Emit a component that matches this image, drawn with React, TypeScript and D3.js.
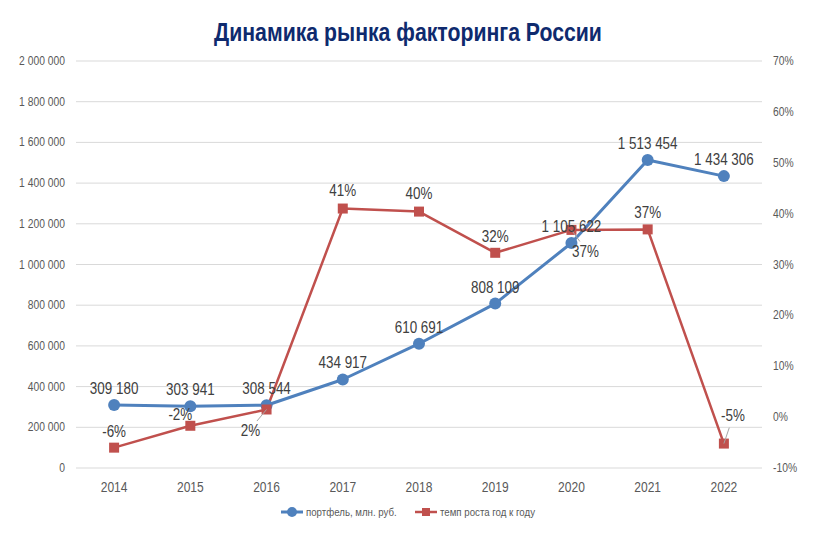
import React from 'react';
import * as d3 from 'd3';

const years = ['2014', '2015', '2016', '2017', '2018', '2019', '2020', '2021', '2022'];
const portfolio = [309180, 303941, 308544, 434917, 610691, 808109, 1105622, 1513454, 1434306];
const growth = [-6.0, -1.7, 1.5, 41.0, 40.4, 32.3, 36.8, 36.9, -5.2];
const growthLabels = ['-6%', '-2%', '2%', '41%', '40%', '32%', '37%', '37%', '-5%'];
const leftTicks = [0, 200000, 400000, 600000, 800000, 1000000, 1200000, 1400000, 1600000, 1800000, 2000000];
const rightTicks = [-10, 0, 10, 20, 30, 40, 50, 60, 70];

// label offsets for the red series (dx, dy relative to the marker) and whether a leader line is drawn
const redLabelPos: [number, number, boolean][] = [
  [0, -17, false],
  [-10, -12, false],
  [-16, 21, true],
  [0, -19, false],
  [0, -19, false],
  [0, -17, false],
  [14, 21, true],
  [0, -17, false],
  [9, -29, true],
];

const W = 835;
const H = 536;
const left = 76;
const right = 762;
const top = 61;
const bottom = 468;

const FONT = '"Liberation Sans", Arial, sans-serif';

const fmt = (v: number) => d3.format(',')(v).replace(/,/g, ' ');

// no narrow font installed, so squeeze text horizontally
function T({ x, y, sx = 0.86, children, ...rest }: any) {
  return (
    <text transform={`translate(${x},${y}) scale(${sx},1)`} {...rest}>
      {children}
    </text>
  );
}

export default function App() {
  const x = d3.scaleBand().domain(years).range([left, right]);
  const yL = d3.scaleLinear().domain([0, 2000000]).range([bottom, top]);
  const yR = d3.scaleLinear().domain([-10, 70]).range([bottom, top]);
  const cx = (y: string) => (x(y) as number) + x.bandwidth() / 2;

  const blueLine = d3.line<number>().x((_, i) => cx(years[i])).y(d => yL(d))(portfolio) as string;
  const redLine = d3.line<number>().x((_, i) => cx(years[i])).y(d => yR(d))(growth) as string;

  return (
    <svg width={W} height={H} style={{ position: 'absolute', left: 0, top: 0, background: '#fff' }} fontFamily={FONT}>
      <T x={408} y={41} sx={0.85} textAnchor="middle" fontSize={25} fontWeight="bold" fill="#0E2A6E">
        Динамика рынка факторинга России
      </T>

      {leftTicks.map(t => (
        <g key={t}>
          <line x1={left} x2={right} y1={yL(t)} y2={yL(t)} stroke="#D9D9D9" strokeWidth={1} />
          <T x={65} y={yL(t) + 4} sx={0.86} textAnchor="end" fontSize={12} fill="#595959">{fmt(t)}</T>
        </g>
      ))}
      {rightTicks.map(t => (
        <T key={t} x={773} y={yR(t) + 4} sx={0.86} fontSize={12} fill="#595959">{t}%</T>
      ))}
      {years.map(y => (
        <T key={y} x={cx(y)} y={492} sx={0.86} textAnchor="middle" fontSize={14} fill="#595959">{y}</T>
      ))}

      <path d={blueLine} fill="none" stroke="#4F81BD" strokeWidth={3} strokeLinejoin="round" />
      <path d={redLine} fill="none" stroke="#C0504D" strokeWidth={2.5} strokeLinejoin="round" />

      {portfolio.map((v, i) => (
        <circle key={i} cx={cx(years[i])} cy={yL(v)} r={6} fill="#4F81BD" />
      ))}
      {growth.map((v, i) => (
        <rect key={i} x={cx(years[i]) - 5} y={yR(v) - 5} width={10} height={10} fill="#C0504D" />
      ))}

      {growth.map((v, i) => {
        const [dx, dy, lead] = redLabelPos[i];
        const px = cx(years[i]);
        const py = yR(v);
        return (
          <g key={i}>
            {lead && (
              <line x1={px} y1={py} x2={px + dx * 0.6} y2={py + dy * 0.55} stroke="#A6A6A6" strokeWidth={1} />
            )}
            <T x={px + dx} y={py + dy + 6} sx={0.84} textAnchor="middle" fontSize={16} fill="#404040">
              {growthLabels[i]}
            </T>
          </g>
        );
      })}
      {portfolio.map((v, i) => (
        <T key={i} x={cx(years[i])} y={yL(v) - 11} sx={0.84} textAnchor="middle" fontSize={16} fill="#404040">
          {fmt(v)}
        </T>
      ))}

      <g fontSize={11} fill="#595959">
        <line x1={281} x2={303} y1={512} y2={512} stroke="#4F81BD" strokeWidth={3} />
        <circle cx={292} cy={512} r={5} fill="#4F81BD" />
        <T x={306} y={516} sx={0.88}>портфель, млн. руб.</T>
        <line x1={415} x2={437} y1={512} y2={512} stroke="#C0504D" strokeWidth={2.5} />
        <rect x={422} y={508} width={8} height={8} fill="#C0504D" />
        <T x={440} y={516} sx={0.88}>темп роста год к году</T>
      </g>
    </svg>
  );
}
